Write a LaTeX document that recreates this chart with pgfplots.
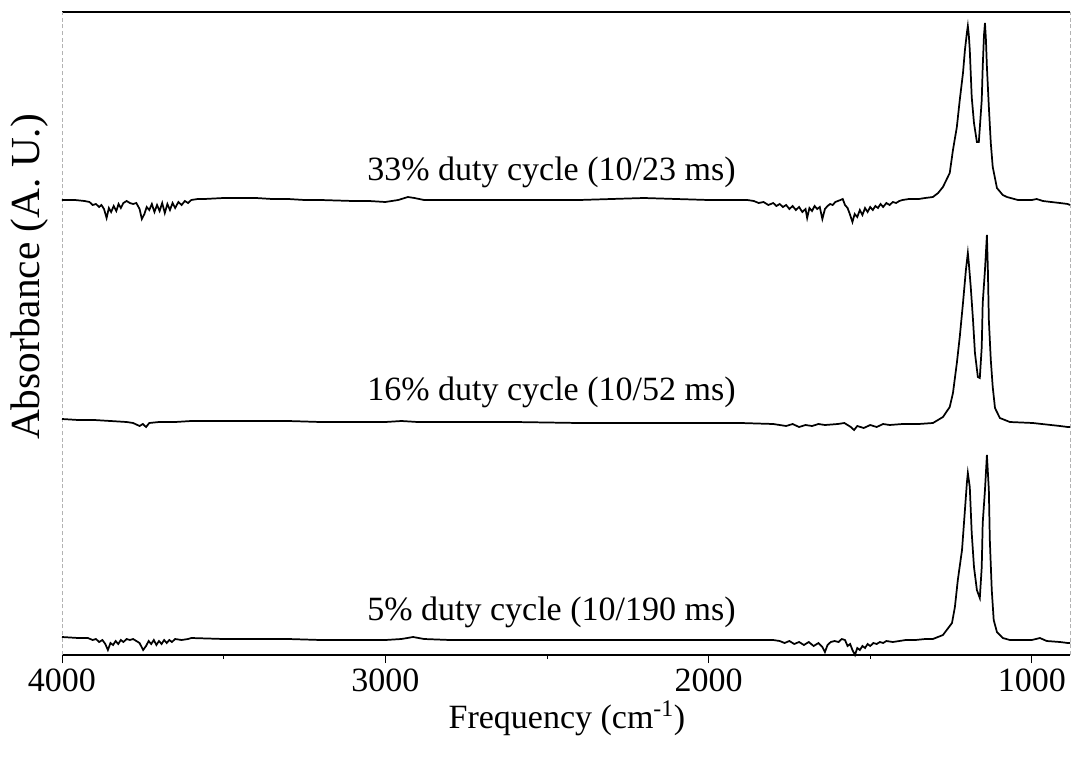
\documentclass[border=0pt]{standalone}
\usepackage{fontspec}
\setmainfont{Liberation Serif}
\usepackage{pgfplots}
\pgfplotsset{compat=1.18}
\begin{document}
\begin{tikzpicture}
\useasboundingbox (-46.5pt,-77.25pt) rectangle (759pt,491.25pt);
\begin{axis}[
  scale only axis,
  width=756pt, height=482.25pt,
  x dir=reverse,
  xmin=882, xmax=4000,
  ymin=0, ymax=643,
  clip=false,
  axis line style={draw=none},
  xtick={1000,2000,3000,4000},
  minor x tick num=1,
  xtick pos=bottom,
  tick align=outside,
  major tick length=6pt,
  minor tick length=3pt,
  tick style={black, line width=0.6pt},
  ytick=\empty,
  /pgf/number format/assume math mode=true,
  /pgf/number format/set thousands separator={},
  xticklabel style={font=\fontsize{25.5}{30}\selectfont, yshift=-1pt},
]
\draw[black, line width=1.2pt] (rel axis cs:0,0) -- (rel axis cs:1,0);
\draw[black, line width=1.2pt] (rel axis cs:0,1) -- (rel axis cs:1,1);
\draw[gray!60, densely dashed, line width=0.5pt] (rel axis cs:0,0) -- (rel axis cs:0,1);
\draw[gray!60, densely dashed, line width=0.5pt] (rel axis cs:1,0) -- (rel axis cs:1,1);

% 33% duty cycle
\addplot[black, line width=1.3pt] coordinates {
(4000,455) (3960,455) (3930,454) (3915,453) (3905,450) (3895,451) (3885,448) (3878,450)
(3870,446) (3862,437) (3855,447) (3848,443) (3840,449) (3832,444) (3825,451) (3818,447)
(3810,452) (3800,454) (3790,452) (3780,451) (3770,452) (3760,446) (3753,436) (3745,441)
(3738,448) (3730,445) (3722,451) (3714,443) (3706,450) (3698,444) (3690,452) (3682,442)
(3674,451) (3666,445) (3658,452) (3650,447) (3640,453) (3630,450) (3620,454) (3610,452)
(3600,455) (3580,456) (3560,456) (3500,457) (3450,457) (3400,457) (3350,456) (3300,456)
(3250,455) (3200,455) (3100,454) (3050,454) (3000,453) (2960,455) (2930,458) (2910,457)
(2880,455) (2850,455) (2700,455) (2600,455) (2500,455) (2400,455) (2300,456) (2200,457)
(2100,456) (2000,455) (1900,455) (1880,455) (1860,454) (1845,452) (1830,453) (1815,450)
(1800,452) (1790,449) (1780,451) (1770,448) (1760,450) (1750,446) (1740,449) (1730,445)
(1720,448) (1710,443) (1700,446) (1695,437) (1688,447) (1680,444) (1672,449) (1664,446)
(1656,448) (1648,436) (1640,446) (1632,449) (1624,451) (1616,450) (1608,453) (1600,454)
(1592,455) (1585,456) (1578,450) (1570,447) (1562,440) (1555,433) (1548,441) (1540,438)
(1532,445) (1524,440) (1516,447) (1508,443) (1500,448) (1492,445) (1484,449) (1476,447)
(1468,451) (1460,448) (1450,452) (1440,450) (1430,453) (1420,452) (1410,454) (1400,455)
(1380,456) (1350,456) (1330,457) (1306,458) (1290,462) (1275,468) (1254,482) (1244,505)
(1232,528) (1223,555) (1213,582) (1207,605) (1201,622) (1198,629) (1195,620) (1192,605)
(1186,558) (1179,532) (1170,513) (1164,513) (1155,555) (1152,588) (1148,620) (1145,632)
(1142,615) (1139,588) (1133,548) (1127,512) (1121,488) (1108,467) (1090,460) (1077,458)
(1043,455) (1000,455) (985,456) (966,454) (940,453) (913,452) (889,451) (882,450)
};

% 16% duty cycle
\addplot[black, line width=1.3pt] coordinates {
(4000,236) (3950,235) (3900,235) (3850,234) (3800,233) (3780,232) (3760,229) (3750,231)
(3740,228) (3730,232) (3700,233) (3650,233) (3600,234) (3500,234) (3400,234) (3300,234)
(3200,233) (3000,233) (2950,234) (2900,233) (2800,233) (2600,233) (2400,232) (2200,232)
(2000,232) (1900,232) (1800,231) (1760,229) (1740,231) (1720,228) (1700,230) (1680,229)
(1660,231) (1640,230) (1600,231) (1580,232) (1560,228) (1550,225) (1540,229) (1520,227)
(1500,230) (1480,228) (1460,231) (1440,230) (1400,231) (1350,231) (1306,232) (1275,238)
(1254,248) (1244,262) (1232,292) (1223,318) (1213,352) (1204,385) (1198,402) (1195,392)
(1189,368) (1182,335) (1176,302) (1167,278) (1161,277) (1155,308) (1152,352) (1145,385)
(1139,420) (1136,385) (1133,335) (1127,295) (1121,268) (1114,247) (1099,237) (1068,233)
(997,232) (913,229) (889,228) (882,228)
};

% 5% duty cycle
\addplot[black, line width=1.3pt] coordinates {
(4000,18) (3950,17) (3920,17) (3905,15) (3895,16) (3885,13) (3875,15) (3866,11)
(3858,5) (3850,12) (3842,10) (3834,14) (3826,11) (3818,15) (3810,13) (3800,16)
(3790,15) (3780,16) (3770,14) (3760,12) (3749,5) (3740,9) (3732,14) (3724,11)
(3716,15) (3708,10) (3700,14) (3692,11) (3684,15) (3676,12) (3668,15) (3660,13)
(3650,16) (3630,15) (3610,16) (3600,17) (3500,16) (3400,16) (3300,16) (3200,15)
(3100,15) (3000,15) (2950,16) (2914,18) (2880,16) (2800,15) (2600,15) (2400,15)
(2200,15) (2000,15) (1900,15) (1800,15) (1780,14) (1765,12) (1750,14) (1735,11)
(1720,13) (1705,10) (1690,13) (1675,9) (1660,12) (1648,8) (1640,3) (1632,10)
(1622,13) (1610,14) (1598,13) (1588,16) (1578,15) (1570,9) (1562,11) (1555,5)
(1547,0) (1540,7) (1532,5) (1524,9) (1516,7) (1508,11) (1500,9) (1490,12)
(1480,11) (1470,13) (1460,12) (1450,14) (1430,13) (1410,14) (1390,15) (1360,15)
(1330,16) (1306,16) (1275,20) (1247,32) (1238,48) (1229,75) (1216,105) (1207,145)
(1201,172) (1198,182) (1192,168) (1186,122) (1179,88) (1170,65) (1161,57) (1155,88)
(1152,132) (1145,165) (1139,200) (1133,165) (1130,115) (1124,65) (1118,35) (1108,23)
(1090,17) (1068,15) (1040,15) (1000,15) (975,17) (954,14) (913,13) (889,12) (882,12)
};

\node[font=\fontsize{25.5}{30}\selectfont] at (axis cs:2486,483) {33\% duty cycle (10/23 ms)};
\node[font=\fontsize{25.5}{30}\selectfont] at (axis cs:2486,263) {16\% duty cycle (10/52 ms)};
\node[font=\fontsize{25.5}{30}\selectfont] at (axis cs:2486,43) {5\% duty cycle (10/190 ms)};
\node[font=\fontsize{25.5}{30}\selectfont] at (axis cs:2438,-63) {Frequency (cm\textsuperscript{-1})};
\node[font=\fontsize{31}{36}\selectfont, rotate=90] at (axis cs:4099,378) {Absorbance (A. U.)};
\end{axis}
\end{tikzpicture}
\end{document}
